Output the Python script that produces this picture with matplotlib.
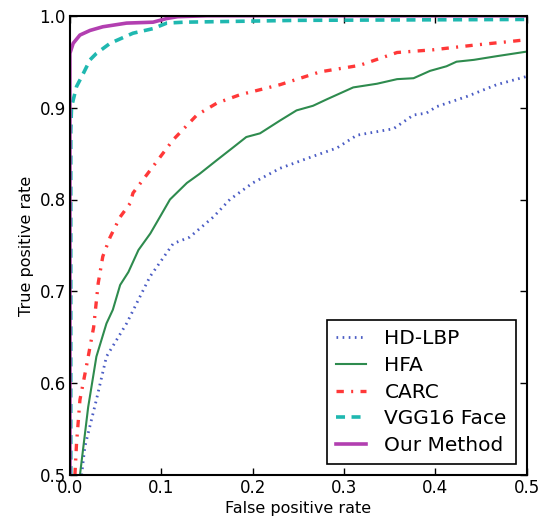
import matplotlib
matplotlib.use("Agg")
import matplotlib.pyplot as plt

# ROC curves (fpr, tpr)
hdlbp_fpr = [0.0128, 0.0164, 0.029, 0.040, 0.062, 0.0876, 0.113, 0.131, 0.157, 0.175,
             0.200, 0.230, 0.266, 0.292, 0.314, 0.354, 0.376, 0.390, 0.401, 0.434, 0.467, 0.500]
hdlbp_tpr = [0.500, 0.531, 0.582, 0.629, 0.665, 0.716, 0.752, 0.759, 0.781, 0.800,
             0.818, 0.834, 0.847, 0.856, 0.870, 0.877, 0.892, 0.894, 0.901, 0.912, 0.925, 0.934]

hfa_fpr = [0.011, 0.020, 0.029, 0.040, 0.047, 0.055, 0.064, 0.075, 0.088, 0.0985, 0.1095,
           0.128, 0.142, 0.161, 0.179, 0.193, 0.208, 0.230, 0.248, 0.266, 0.281, 0.310,
           0.336, 0.358, 0.376, 0.394, 0.412, 0.423, 0.442, 0.467, 0.500]
hfa_tpr = [0.500, 0.574, 0.629, 0.665, 0.680, 0.707, 0.721, 0.745, 0.763, 0.781, 0.800,
           0.818, 0.828, 0.843, 0.857, 0.868, 0.872, 0.886, 0.897, 0.902, 0.909, 0.922,
           0.926, 0.931, 0.932, 0.940, 0.945, 0.950, 0.952, 0.956, 0.961]

carc_fpr = [0.0055, 0.0073, 0.011, 0.018, 0.026, 0.031, 0.036, 0.044, 0.055, 0.066,
            0.069, 0.091, 0.113, 0.139, 0.161, 0.186, 0.230, 0.274, 0.317, 0.358,
            0.398, 0.442, 0.482, 0.500]
carc_tpr = [0.500, 0.535, 0.582, 0.618, 0.661, 0.709, 0.738, 0.759, 0.781, 0.796,
            0.807, 0.836, 0.865, 0.892, 0.905, 0.914, 0.925, 0.939, 0.946, 0.960,
            0.963, 0.968, 0.972, 0.974]

vgg_fpr = [0.001, 0.001, 0.0018, 0.0073, 0.0146, 0.022, 0.029, 0.044, 0.069, 0.091,
           0.106, 0.125, 0.250, 0.500]
vgg_tpr = [0.500, 0.875, 0.901, 0.923, 0.937, 0.952, 0.959, 0.970, 0.981, 0.986,
           0.992, 0.993, 0.995, 0.996]

ours_fpr = [0.0, 0.0, 0.0036, 0.011, 0.022, 0.036, 0.062, 0.091, 0.106, 0.118, 0.150, 0.500]
ours_tpr = [0.500, 0.959, 0.970, 0.979, 0.984, 0.988, 0.992, 0.993, 0.997, 0.999, 1.000, 1.000]

fig = plt.figure(figsize=(5.46, 5.25), dpi=100)
ax = fig.add_axes([0.128, 0.095, 0.837, 0.875])

ax.plot(hdlbp_fpr, hdlbp_tpr, color='#4a5cc4', linestyle=(0, (0.6, 1.6)),
        linewidth=2.0, label='HD-LBP')
ax.plot(hfa_fpr, hfa_tpr, color='#2e8b4e', linestyle='-', linewidth=1.5, label='HFA')
ax.plot(carc_fpr, carc_tpr, color='#ff3838', linestyle=(0, (2.2, 2.2, 0.6, 2.2)),
        linewidth=2.4, label='CARC')
ax.plot(vgg_fpr, vgg_tpr, color='#1fb8b0', linestyle=(0, (2.5, 1.8)),
        linewidth=2.6, label='VGG16 Face')
ax.plot(ours_fpr, ours_tpr, color='#b23fb0', linestyle='-', linewidth=2.6,
        label='Our Method')

ax.set_xlim(0, 0.5)
ax.set_ylim(0.5, 1.0)
ax.set_xticks([0.0, 0.1, 0.2, 0.3, 0.4, 0.5])
ax.set_yticks([0.5, 0.6, 0.7, 0.8, 0.9, 1.0])
ax.tick_params(direction='in', top=True, right=True, length=5, width=1,
               labelsize=12, pad=3)
for s in ax.spines.values():
    s.set_linewidth(1.5)

ax.set_xlabel('False positive rate', fontsize=11.5, labelpad=3)
ax.set_ylabel('True positive rate', fontsize=11.5)

leg = ax.legend(loc='lower right', fontsize=14.5, handlelength=1.5, borderpad=0.45,
                labelspacing=0.38, handletextpad=0.9, borderaxespad=0.55,
                fancybox=False, framealpha=1, edgecolor='black')
leg.get_frame().set_linewidth(1.2)

fig.savefig('out.png', dpi=100)
